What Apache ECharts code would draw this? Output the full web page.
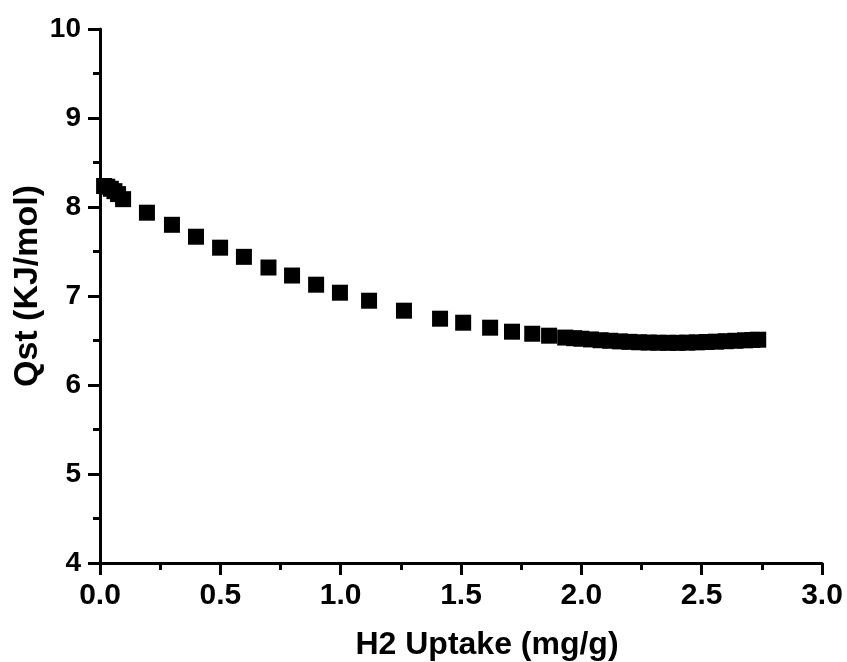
<!DOCTYPE html>
<html>
<head>
<meta charset="utf-8">
<script src="https://cdn.jsdelivr.net/npm/echarts@6/dist/echarts.min.js"></script>
<style>
html,body{margin:0;padding:0;background:#fff;}
#chart{width:847px;height:662px;}
</style>
</head>
<body>
<div id="chart"></div>
<script>
// H2 uptake (mg/g)
var uptake = [0.017, 0.03, 0.045, 0.06, 0.075, 0.096,
  0.195, 0.299, 0.399, 0.499, 0.598, 0.70, 0.798, 0.898, 0.997,
  1.118, 1.263, 1.413, 1.509, 1.621, 1.712, 1.796, 1.866, 1.933,
  1.97, 2.00, 2.04, 2.08, 2.12, 2.16, 2.20, 2.24, 2.28, 2.32, 2.36,
  2.40, 2.44, 2.48, 2.52, 2.56, 2.60, 2.64, 2.68, 2.71, 2.735];
// Qst (KJ/mol)
var qst = [8.236, 8.228, 8.205, 8.178, 8.145, 8.088,
  7.936, 7.80, 7.666, 7.543, 7.44, 7.32, 7.23, 7.127, 7.037,
  6.947, 6.835, 6.745, 6.70, 6.644, 6.599, 6.576, 6.554, 6.533,
  6.526, 6.520, 6.512, 6.503, 6.497, 6.490, 6.485, 6.480, 6.477, 6.475, 6.474,
  6.474, 6.476, 6.479, 6.483, 6.487, 6.492, 6.497, 6.502, 6.506, 6.509];
var xTicks = {min: 0, max: 3, interval: 0.5};
var yTicks = {min: 4, max: 10, interval: 1};
var xTitle = 'H2 Uptake (mg/g)';
var yTitle = 'Qst (KJ/mol)';

var pts = uptake.map(function (x, i) { return [x, qst[i]]; });
var font = "'Liberation Sans', Arial, sans-serif";
var chart = echarts.init(document.getElementById('chart'), null, {renderer: 'canvas'});
chart.setOption({
  animation: false,
  backgroundColor: '#fff',
  grid: {left: 100, right: 25, top: 29, bottom: 99, containLabel: false, outerBoundsMode: 'none'},
  xAxis: {
    type: 'value', min: xTicks.min, max: xTicks.max, interval: xTicks.interval,
    name: xTitle, nameLocation: 'middle', nameGap: 66,
    nameTextStyle: {fontFamily: font, fontWeight: 'bold', fontSize: 32, color: '#000', padding: [0, 0, 0, 52]},
    axisLine: {show: true, onZero: false, lineStyle: {color: '#000', width: 3}},
    axisTick: {show: true, length: 12, lineStyle: {color: '#000', width: 3}},
    minorTick: {show: true, splitNumber: 2, length: 7, lineStyle: {color: '#000', width: 3}},
    splitLine: {show: false},
    axisLabel: {fontFamily: font, fontWeight: 'bold', fontSize: 30, color: '#000', margin: 18,
      formatter: function (v) { return v.toFixed(1); }}
  },
  yAxis: {
    type: 'value', min: yTicks.min, max: yTicks.max, interval: yTicks.interval,
    name: yTitle, nameLocation: 'middle', nameGap: 55, nameMoveOverlap: false,
    nameTextStyle: {fontFamily: font, fontWeight: 'bold', fontSize: 34, color: '#000', padding: [0, 0, 0, 20]},
    axisLine: {show: true, onZero: false, lineStyle: {color: '#000', width: 3}},
    axisTick: {show: true, length: 12, lineStyle: {color: '#000', width: 3}},
    minorTick: {show: true, splitNumber: 2, length: 7, lineStyle: {color: '#000', width: 3}},
    splitLine: {show: false},
    axisLabel: {fontFamily: font, fontWeight: 'bold', fontSize: 28, color: '#000', margin: 19}
  },
  series: [{
    type: 'scatter',
    data: pts,
    symbol: 'rect',
    symbolSize: 16,
    clip: false,
    itemStyle: {color: '#000', opacity: 1}
  }]
});
</script>
</body>
</html>
